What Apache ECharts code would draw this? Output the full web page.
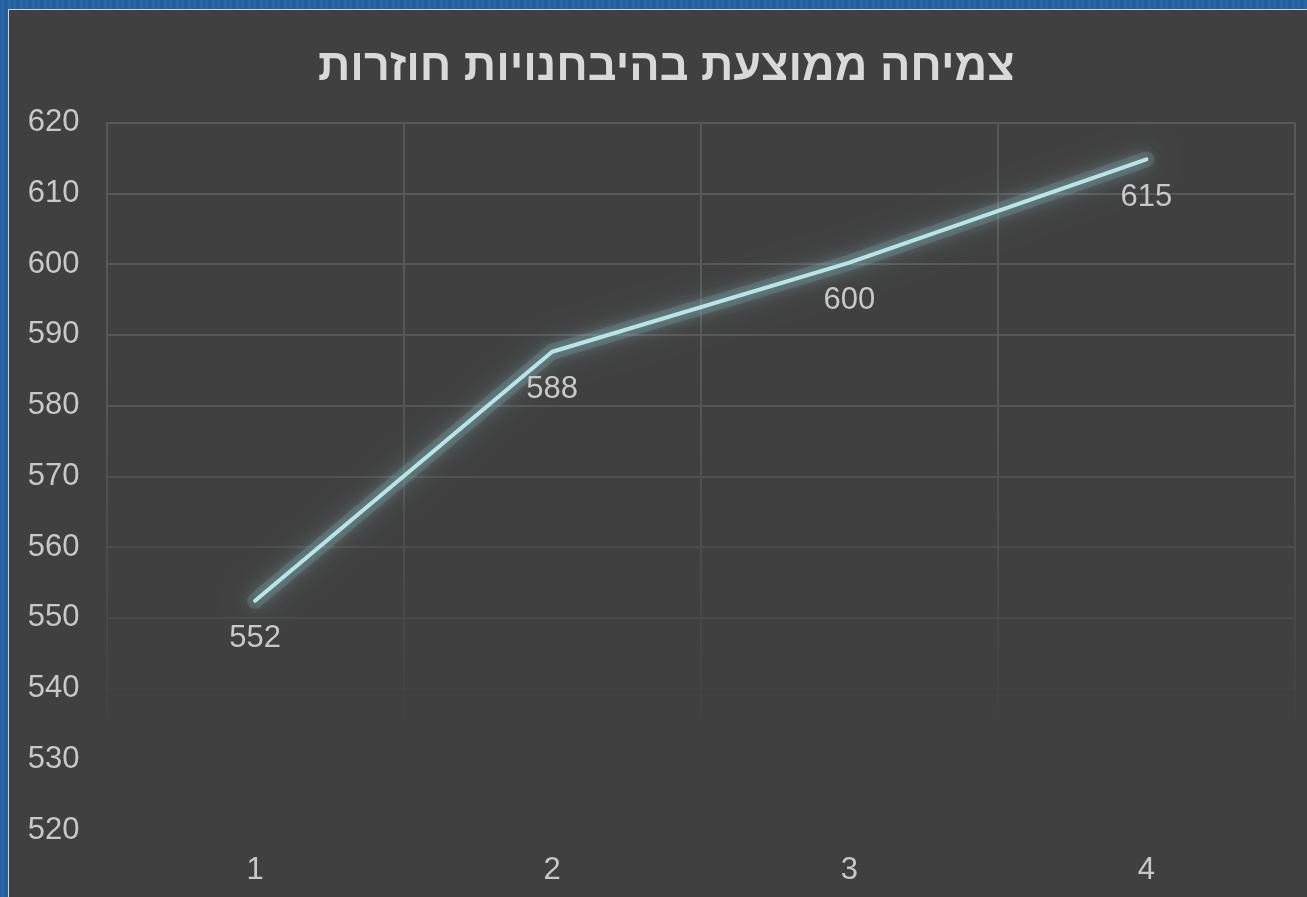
<!DOCTYPE html>
<html>
<head>
<meta charset="utf-8">
<script src="https://cdn.jsdelivr.net/npm/echarts@6/dist/echarts.min.js"></script>
<style>
  html, body { margin: 0; padding: 0; width: 1307px; height: 897px; overflow: hidden; }
  body { background: repeating-linear-gradient(90deg, #235f9e 0px, #2a68a8 3px, #1f5a98 6px, #2b6aab 9px, #235f9e 12px); }
  #frame { position: absolute; left: 8px; top: 9px; width: 1299px; height: 888px; box-sizing: border-box;
           border-top: 1px solid #d4d4d4; border-left: 1px solid #d4d4d4; background: #404040; }
  #chart { width: 1298px; height: 887px; }
</style>
</head>
<body>
<div id="frame"><div id="chart"></div></div>
<script>
const titleText = 'צמיחה ממוצעת בהיבחנויות חוזרות';
const categories = ['1', '2', '3', '4'];
const values = [552.4, 587.6, 600.2, 614.8];
const labels = ['552', '588', '600', '615'];
const yMin = 520, yMax = 620, yStep = 10;

const chart = echarts.init(document.getElementById('chart'), null, { renderer: 'canvas' });
const gridGrad = {
  type: 'linear', x: 0, y: 0, x2: 0, y2: 887, global: true,
  colorStops: [
    { offset: 0, color: '#585858' },
    { offset: 0.40, color: '#575757' },
    { offset: 0.66, color: '#4a4a4a' },
    { offset: 0.82, color: '#404040' },
    { offset: 1, color: '#404040' }
  ]
};
chart.setOption({
  backgroundColor: '#404040',
  animation: false,
  title: {
    text: titleText, left: 304, top: 30,
    textStyle: { color: '#d9d9d9', fontFamily: 'Liberation Sans, Arial, sans-serif', fontWeight: 'bold', fontSize: 45 }
  },
  grid: { left: 97.5, right: 12, top: 112.5, bottom: 67, containLabel: false },
  xAxis: {
    type: 'category', data: categories, boundaryGap: true,
    axisLine: { show: false }, axisTick: { show: false },
    axisLabel: { color: '#c8c8c8', fontFamily: 'Liberation Sans, Arial, sans-serif', fontSize: 31, margin: 25 },
    splitLine: { show: true, interval: 0, lineStyle: { color: gridGrad, width: 2 } }
  },
  yAxis: {
    type: 'value', min: yMin, max: yMax, interval: yStep,
    axisLine: { show: false }, axisTick: { show: false },
    axisLabel: { color: '#c8c8c8', fontFamily: 'Liberation Sans, Arial, sans-serif', fontSize: 31, margin: 27 },
    splitLine: { show: true, lineStyle: { color: gridGrad, width: 2 } }
  },
  series: [{
    type: 'line', data: values, silent: true, z: 1,
    showSymbol: false, symbol: 'none',
    lineStyle: { color: 'rgba(150,205,210,0.17)', width: 16, cap: 'round', join: 'round',
                 shadowBlur: 26, shadowColor: 'rgba(150,210,215,1)' },
    label: { show: false }
  }, {
    type: 'line', data: values, z: 2,
    showSymbol: true, symbol: 'circle', symbolSize: 1,
    itemStyle: { color: '#b6e6e9' },
    lineStyle: { color: '#b6e6e9', width: 4, cap: 'round', join: 'round',
                 shadowBlur: 14, shadowColor: 'rgba(170,225,230,0.7)' },
    label: {
      show: true, position: 'bottom', distance: 22,
      formatter: p => labels[p.dataIndex],
      color: '#c8c8c8', fontFamily: 'Liberation Sans, Arial, sans-serif', fontSize: 31
    }
  }]
});
</script>
</body>
</html>
